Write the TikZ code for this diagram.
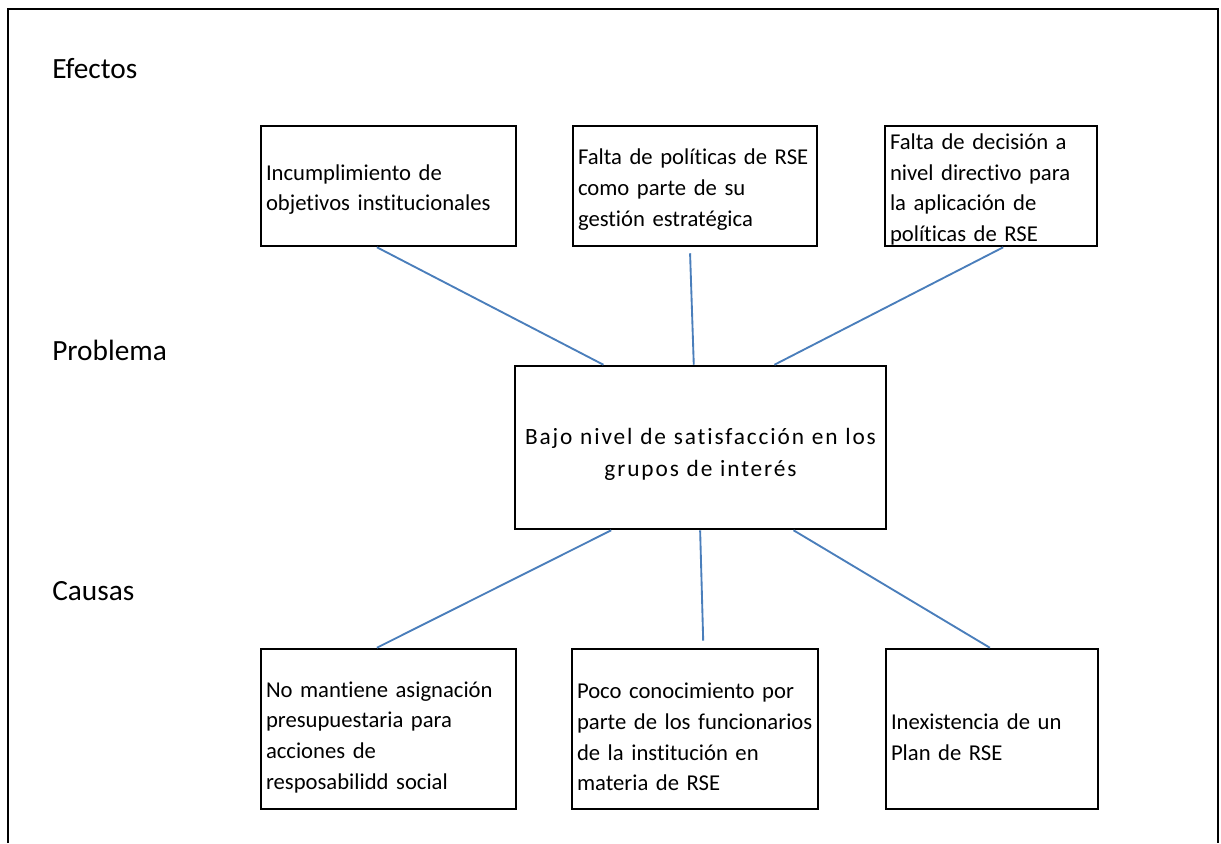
\documentclass[tikz,border=0pt]{standalone}
\usepackage{fontspec}
\setmainfont{Carlito}[Ligatures=NoCommon]
\usetikzlibrary{calc}
\definecolor{azul}{HTML}{4A7EBB}
\newcommand{\singuion}{\hyphenpenalty 10000\relax}
\begin{document}
\begin{tikzpicture}[x=0.75pt, y=-0.75pt,
    caja/.style={draw, line width=1.9pt, inner xsep=3.5pt, inner ysep=0pt, align=left,
      font=\fontsize{17}{23}\selectfont\singuion, bajar=17pt},
    bajar/.style={execute at begin node={\rule{0pt}{#1}}},
    conector/.style={azul, line width=1.4pt},
    etiqueta/.style={anchor=base west, inner sep=0pt,
      font=\fontsize{22}{26}\selectfont}]
  \useasboundingbox (0,0) rectangle (1221,843);
  % marco
  \draw[line width=2.2pt] (8,843) -- (8,9) -- (1218,9) -- (1218,843);

  \node[etiqueta] (efectos) at (52,78) {Efectos};
  \node[etiqueta] (problema) at (52,360) {Problema};
  \node[etiqueta] (causas) at (52,600) {Causas};

  % efectos
  \node[caja, minimum width=255*0.75pt, minimum height=120*0.75pt,
    text width=245*0.75pt] (e1) at (388.5,186)
    {Incumplimiento de\\objetivos institucionales};
  \node[caja, minimum width=244*0.75pt, minimum height=120*0.75pt,
    text width=234*0.75pt] (e2) at (695,186)
    {Falta de políticas de RSE\\como parte de su\\gestión estratégica};
  \node[caja, minimum width=212*0.75pt, minimum height=120*0.75pt,
    text width=202*0.75pt] (e3) at (991,186)
    {Falta de decisión a\\nivel directivo para\\la aplicación de\\políticas de RSE};

  % problema
  \node[caja, align=center, minimum width=371*0.75pt, minimum height=163*0.75pt,
    text width=361*0.75pt, bajar=22pt,
    font=\fontsize{17.5}{24}\selectfont\addfontfeatures{LetterSpace=8}]
    (prob) at (700.5,447.5)
    {Bajo nivel de satisfacción en los\\grupos de interés};

  % causas
  \node[caja, minimum width=255*0.75pt, minimum height=160*0.75pt,
    text width=245*0.75pt, bajar=24pt] (c1) at (388.5,729)
    {No mantiene asignación\\presupuestaria para\\acciones de\\resposabilidd social};
  \node[caja, minimum width=246*0.75pt, minimum height=160*0.75pt,
    text width=236*0.75pt, bajar=24pt] (c2) at (695,729)
    {Poco\ conocimiento por\\parte de los funcionarios\\de la institución\ en\\materia de RSE};
  \node[caja, minimum width=212*0.75pt, minimum height=160*0.75pt,
    text width=202*0.75pt, bajar=24pt] (c3) at (992,729)
    {Inexistencia de un\\Plan de RSE};

  % conectores
  \draw[conector] ($(e1.south west)!.455!(e1.south east)$) -- ($(prob.north west)!.24!(prob.north east)$);
  \draw[conector] ($(e2.south west)!.48!(e2.south east) + (0,6)$) -- ($(prob.north west)!.482!(prob.north east)$);
  \draw[conector] ($(e3.south west)!.557!(e3.south east)$) -- ($(prob.north west)!.698!(prob.north east)$);
  \draw[conector] ($(prob.south west)!.261!(prob.south east)$) -- ($(c1.north west)!.455!(c1.north east)$);
  \draw[conector] ($(prob.south west)!.499!(prob.south east)$) -- ($(c2.north west)!.533!(c2.north east) + (0,-7)$);
  \draw[conector] ($(prob.south west)!.749!(prob.south east)$) -- ($(c3.north west)!.49!(c3.north east)$);
\end{tikzpicture}
\end{document}
